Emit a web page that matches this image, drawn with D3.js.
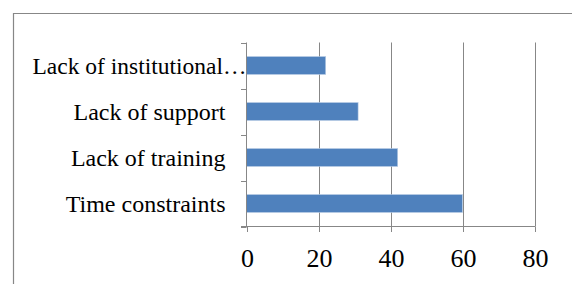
<!DOCTYPE html>
<html>
<head>
<meta charset="utf-8">
<script src="https://cdn.jsdelivr.net/npm/d3@7"></script>
<style>
  body { margin: 0; background: #fff; }
</style>
</head>
<body>
<svg id="chart" width="572" height="284"></svg>
<script>
const categories = ["Lack of institutional\u2026", "Lack of support", "Lack of training", "Time constraints"];
const values = [22, 31, 42, 60];
const xTicks = [0, 20, 40, 60, 80];

const svg = d3.select("#chart");
const gray = "#878787";
const serif = "'Liberation Serif', 'Times New Roman', serif";

// outer frame (only top and left edges visible)
svg.append("path")
    .attr("d", "M13.5,290V13.5H580")
    .attr("fill", "none")
    .attr("stroke", gray)
    .attr("stroke-width", 1.2);

const x = d3.scaleLinear().domain([0, 80]).range([246.5, 534.5]);
const y = d3.scaleBand().domain(categories).range([42.5, 226.5])
    .paddingInner(0.61).paddingOuter(0.305);
const edge = d3.scaleLinear().domain([0, categories.length]).range([42.5, 226.5]);

// gridlines
svg.append("g").selectAll("line")
    .data(xTicks.filter(d => d > 0))
    .enter().append("line")
    .attr("x1", d => Math.round(x(d)) + 0.5)
    .attr("x2", d => Math.round(x(d)) + 0.5)
    .attr("y1", 42.5).attr("y2", 226.5)
    .attr("stroke", gray);

// bars
svg.append("g").selectAll("rect")
    .data(categories)
    .enter().append("rect")
    .attr("x", x(0))
    .attr("y", d => y(d))
    .attr("width", (d, i) => x(values[i]) - x(0))
    .attr("height", y.bandwidth())
    .attr("fill", "#4f81bd")
    .attr("stroke", "#b9cde5")
    .attr("stroke-width", 0.6);

// y axis line and ticks
svg.append("line")
    .attr("x1", 246.5).attr("x2", 246.5)
    .attr("y1", 42.5).attr("y2", 226.5)
    .attr("stroke", gray);
svg.append("g").selectAll("line")
    .data(d3.range(categories.length + 1))
    .enter().append("line")
    .attr("x1", 241).attr("x2", 246.5)
    .attr("y1", d => Math.round(edge(d)) + 0.5)
    .attr("y2", d => Math.round(edge(d)) + 0.5)
    .attr("stroke", gray);

// x axis line and ticks
svg.append("line")
    .attr("x1", 241).attr("x2", 535)
    .attr("y1", 226.5).attr("y2", 226.5)
    .attr("stroke", gray);
svg.append("g").selectAll("line")
    .data(xTicks)
    .enter().append("line")
    .attr("x1", d => Math.round(x(d)) + 0.5)
    .attr("x2", d => Math.round(x(d)) + 0.5)
    .attr("y1", 226.5).attr("y2", 232)
    .attr("stroke", gray);

// category labels (the truncated one runs up to the axis, as Excel draws it)
const labels = svg.append("g").selectAll("text")
    .data(categories)
    .enter().append("text")
    .attr("x", d => d.endsWith("\u2026") ? 246.5 : 225.5)
    .attr("y", d => y(d) + y.bandwidth() / 2 + 8.3)
    .attr("text-anchor", "end")
    .attr("font-family", serif)
    .attr("font-size", 24)
    .attr("fill", "#000")
    .text(d => d);
labels.filter(d => d.endsWith("\u2026"))
    .attr("textLength", 214)
    .attr("lengthAdjust", "spacingAndGlyphs");

// x tick labels
svg.append("g").selectAll("text")
    .data(xTicks)
    .enter().append("text")
    .attr("x", d => x(d) + 1)
    .attr("y", 267)
    .attr("text-anchor", "middle")
    .attr("font-family", serif)
    .attr("font-size", 26)
    .attr("fill", "#000")
    .text(d => d);
</script>
</body>
</html>
